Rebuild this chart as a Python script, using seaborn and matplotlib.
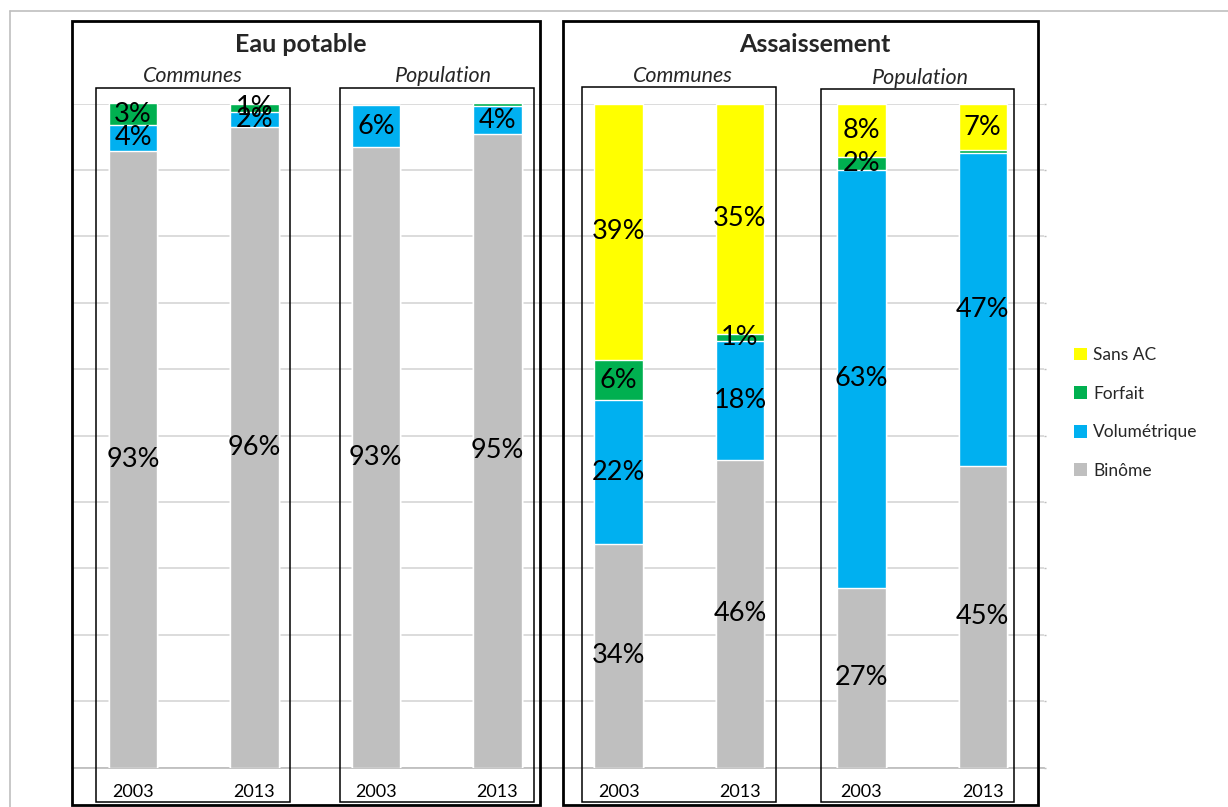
import numpy as np
import pandas as pd
import seaborn as sns
import matplotlib.pyplot as plt
from matplotlib.patches import Rectangle, Patch
from matplotlib.lines import Line2D

# Tarification types, bottom to top of each stacked bar
layers = ["Binôme", "Volumétrique", "Forfait", "Sans AC"]
layer_colors = ["#BFBFBF", "#00B0F0", "#00B050", "#FFFF00"]

sections = ["Eau potable", "Assaissement"]
subgroups = ["Communes", "Population"]
years = ["2003", "2013"]

# Shares in % for each bar: Eau potable/Communes 2003, 2013, Eau potable/Population 2003, 2013,
# Assaissement/Communes 2003, 2013, Assaissement/Population 2003, 2013
binome = [92.9, 96.4, 93.4, 95.4, 33.6, 46.3, 27.1, 45.4]
volumetrique = [3.9, 2.3, 6.4, 4.2, 21.7, 17.9, 62.9, 47.2]
forfait = [3.2, 1.3, 0.0, 0.4, 6.0, 1.1, 2.0, 0.4]
sans_ac = [0.0, 0.0, 0.0, 0.0, 38.7, 34.7, 8.0, 6.9]

W_PX, H_PX = 1228, 807
FONT = ["Lato", "DejaVu Sans"]

sns.set_theme(style="white")
plt.rcParams["font.family"] = FONT

bar_keys = [f"{s}|{g}|{y}" for s in sections for g in subgroups for y in years]
series = [binome, volumetrique, forfait, sans_ac]
df = pd.DataFrame({"bar": bar_keys})
for name, vals in zip(layers, series):
    df[name] = vals


def fx(px):
    return px / W_PX


def fy(py):
    return 1 - py / H_PX


fig = plt.figure(figsize=(W_PX / 100, H_PX / 100), dpi=100)
ax = fig.add_axes([fx(72.4), fy(767.5), fx(1043.5) - fx(72.4), fy(103.5) - fy(767.5)])

# stacked bars: draw cumulative totals from the top layer down
for i in reversed(range(len(layers))):
    cum = df[layers[: i + 1]].sum(axis=1)
    sns.barplot(x=df["bar"], y=cum, order=bar_keys, color=layer_colors[i],
                saturation=1, width=0.4, edgecolor="white", linewidth=1.0,
                errorbar=None, ax=ax, zorder=3)

# percentage labels centred in each segment
for j, key in enumerate(bar_keys):
    bottom = 0.0
    for name in layers:
        v = df.loc[j, name]
        txt = f"{v:.0f}"
        if int(txt) >= 1:
            ax.text(j, bottom + v / 2, f"{txt}%", ha="center", va="center",
                    fontsize=19.5, color="black", zorder=5)
        bottom += v

ax.set_xlim(-0.5, 7.5)
ax.set_ylim(0, 100)
ax.set_xlabel("")
ax.set_ylabel("")
ax.set_xticks(range(len(bar_keys)))
ax.set_xticklabels([k.split("|")[2] for k in bar_keys], fontsize=13)
ax.set_xticks(np.arange(-0.5, 8, 1.0), minor=True)
ax.tick_params(axis="x", which="major", length=0, pad=12, colors="black")
ax.tick_params(axis="x", which="minor", length=6, width=1, color="#BFBFBF", direction="out")
ax.set_yticks(np.arange(0, 101, 10))
ax.yaxis.set_ticks_position("right")
ax.tick_params(axis="y", length=1.5, width=1, color="#BFBFBF", labelright=False, labelleft=False)
ax.yaxis.grid(True, color="#D9D9D9", linewidth=1.3)
ax.set_axisbelow(True)
for side in ["left", "right", "top"]:
    ax.spines[side].set_visible(False)
ax.spines["bottom"].set_color("#BFBFBF")
ax.spines["bottom"].set_linewidth(1.3)

# chart frame
fig.add_artist(Line2D([fx(10), fx(10)], [fy(11), 0], transform=fig.transFigure,
                      color="#BFBFBF", lw=1.2))
fig.add_artist(Line2D([fx(10), 1], [fy(11), fy(11)], transform=fig.transFigure,
                      color="#BFBFBF", lw=1.2))


def box(x0, y0, x1, y1, lw):
    fig.add_artist(Rectangle((fx(x0), fy(y1)), fx(x1) - fx(x0), fy(y0) - fy(y1),
                             transform=fig.transFigure, fill=False,
                             edgecolor="black", linewidth=lw, zorder=10))


# section frames and sub-group frames
box(72, 21, 540, 805, 2.0)
box(563, 21, 1038, 805, 2.0)
box(96, 88, 290, 802, 1.1)
box(340, 88, 534, 802, 1.1)
box(582, 87, 776, 802, 1.1)
box(821, 89, 1014, 802, 1.1)

fig.text(fx(301), fy(45), sections[0], ha="center", va="center",
         fontsize=18, fontweight="bold")
fig.text(fx(815), fy(45), sections[1], ha="center", va="center",
         fontsize=18, fontweight="bold")
for xp, yp, label in [(193, 76, subgroups[0]), (443, 76, subgroups[1]),
                      (683, 76, subgroups[0]), (920, 78, subgroups[1])]:
    fig.text(fx(xp), fy(yp), label, ha="center", va="center",
             fontsize=15.5, fontstyle="italic")

handles = [Patch(facecolor=c, edgecolor="none", label=n)
           for n, c in zip(layers[::-1], layer_colors[::-1])]
fig.legend(handles=handles, loc="center left", bbox_to_anchor=(fx(1067), fy(413)),
           frameon=False, fontsize=12.5, handlelength=0.75, handleheight=0.75,
           handletextpad=0.35, labelspacing=1.3, borderaxespad=0)

fig.savefig("out.png", dpi=100)
